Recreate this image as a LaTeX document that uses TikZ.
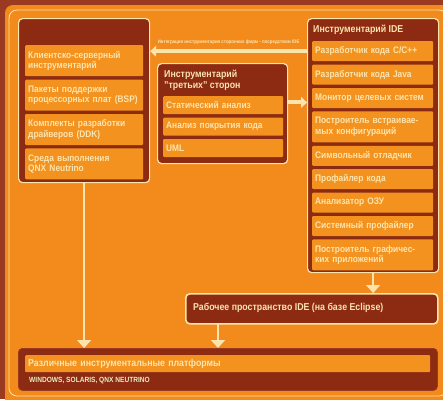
\documentclass[tikz,border=0pt]{standalone}
\usepackage{fontspec}
\setmainfont{Liberation Sans}[FakeStretch=0.88]
\usetikzlibrary{positioning,arrows.meta}
\definecolor{framered}{HTML}{9A3A20}
\definecolor{orangebg}{HTML}{F28A1C}
\definecolor{panelred}{HTML}{8C2A12}
\definecolor{itemorange}{HTML}{F3921F}
\definecolor{cream}{HTML}{FCE4AE}
\definecolor{pale}{HTML}{E6EFC4}
\begin{document}
\begin{tikzpicture}[x=1pt,y=1pt]
    % Styles
        \tikzstyle{panel} = [draw=cream, line width=1.2pt, fill=panelred, rounded corners=4pt, anchor=north west, inner sep=0pt]
        \tikzstyle{heading} = [text=cream, font=\bfseries\fontsize{10}{10.5}\selectfont, align=left, anchor=north west, inner sep=0pt]
        \tikzstyle{item} = [fill=itemorange, text=cream, font=\bfseries\fontsize{9.5}{10.5}\selectfont, align=left, anchor=north west, inner xsep=3pt, inner ysep=0pt, minimum height=20pt, rounded corners=1pt]
        \tikzstyle{bigarrow} = [draw=cream, line width=4pt, -{Triangle[width=11pt,length=6pt]}]
        \tikzstyle{downarrow} = [draw=cream, line width=2pt, -{Triangle[width=14pt,length=8pt]}]
    % Background
        \useasboundingbox (0,0) rectangle (443,-399);
        \clip (0,0) rectangle (443,-399);
        \fill[framered] (0,0) rectangle (443,-399);
        \fill[orangebg, rounded corners=8pt] (5,-5) rectangle (460,-420);
        \draw[cream, line width=0.8pt, rounded corners=8pt] (9,-10) rectangle (447,-396);
    % left column
        \node [panel, minimum width=131, minimum height=164] (tools) at (18,-18) {};
        \node [item, text width=112, minimum height=31] (client) at (25,-45) {Клиентско-серверный\\инструментарий};
        \node [item, text width=112, minimum height=31, below = 3pt of client] (bsp) {Пакеты поддержки\\процессорных плат (BSP)};
        \node [item, text width=112, minimum height=31, below = 3pt of bsp] (ddk) {Комплекты разработки\\драйверов (DDK)};
        \node [item, text width=112, minimum height=31, below = 3pt of ddk] (runtime) {Среда выполнения\\QNX Neutrino};
    % middle column
        \node [panel, minimum width=130, minimum height=100] (third) at (157,-63) {};
        \node [heading] (thirdtitle) at (164,-70) {Инструментарий\\"третьих" сторон};
        \node [item, text width=114, minimum height=18] (static) at (163,-96) {Статический анализ};
        \node [item, text width=114, minimum height=18, below = 3pt of static] (coverage) {Анализ покрытия кода};
        \node [item, text width=114, minimum height=18, below = 3pt of coverage] (uml) {UML};
    % right column
        \node [panel, minimum width=131, minimum height=254] (ide) at (307,-18) {};
        \node [heading] (idetitle) at (313,-25) {Инструментарий IDE};
        \node [item, text width=115] (cpp) at (312,-41) {Разработчик кода C/C++};
        \node [item, text width=115, below = 3pt of cpp] (java) {Разработчик кода Java};
        \node [item, text width=115, below = 3pt of java] (monitor) {Монитор целевых систем};
        \node [item, text width=115, minimum height=31, below = 3pt of monitor] (builder) {Построитель встраивае-\\мых конфигураций};
        \node [item, text width=115, below = 3pt of builder] (debugger) {Символьный отладчик};
        \node [item, text width=115, below = 3pt of debugger] (profiler) {Профайлер кода};
        \node [item, text width=115, below = 3pt of profiler] (memory) {Анализатор ОЗУ};
        \node [item, text width=115, below = 3pt of memory] (sysprof) {Системный профайлер};
        \node [item, text width=115, minimum height=31, below = 3pt of sysprof] (guibuilder) {Построитель графичес-\\ких приложений};
    % bottom rows
        \node [panel, minimum width=252, minimum height=30, line width=1.6pt] (workspace) at (185,-293) {};
        \node [heading, anchor=west] (wstitle) at (193,-308) {Рабочее пространство IDE (на базе Eclipse)};
        \node [panel, draw=framered, line width=0.8pt, minimum width=419, minimum height=42] (hosts) at (18,-348) {};
        \node [item, text width=399, minimum height=17, font=\bfseries\fontsize{10}{10.5}\selectfont] (hostsbar) at (25,-355) {Различные инструментальные платформы};
        \node [heading, text=pale, font=\bfseries\fontsize{7.5}{8}\selectfont] (platforms) at (29,-377) {WINDOWS, SOLARIS, QNX NEUTRINO};
        \coordinate (wsout) at (218,-323);
    % Draw edges
        \path [bigarrow] (cpp.west -| ide.west) -- node [above=1pt, text=cream, font=\bfseries\fontsize{5}{5.5}\selectfont] (integration) {Интеграция инструментария сторонних фирм - посредством IDE} (cpp.west -| tools.east);
        \path [bigarrow] (third.east |- thirdtitle.south) ++(0,-12) coordinate (thirdout) -- (thirdout -| ide.west);
        \path [downarrow] (ide.south) -- (workspace.north -| ide.south);
        \path [downarrow] (tools.south) -- (tools.south |- hosts.north);
        \path [downarrow] (wsout) -- (wsout |- hosts.north);
\end{tikzpicture}
\end{document}
